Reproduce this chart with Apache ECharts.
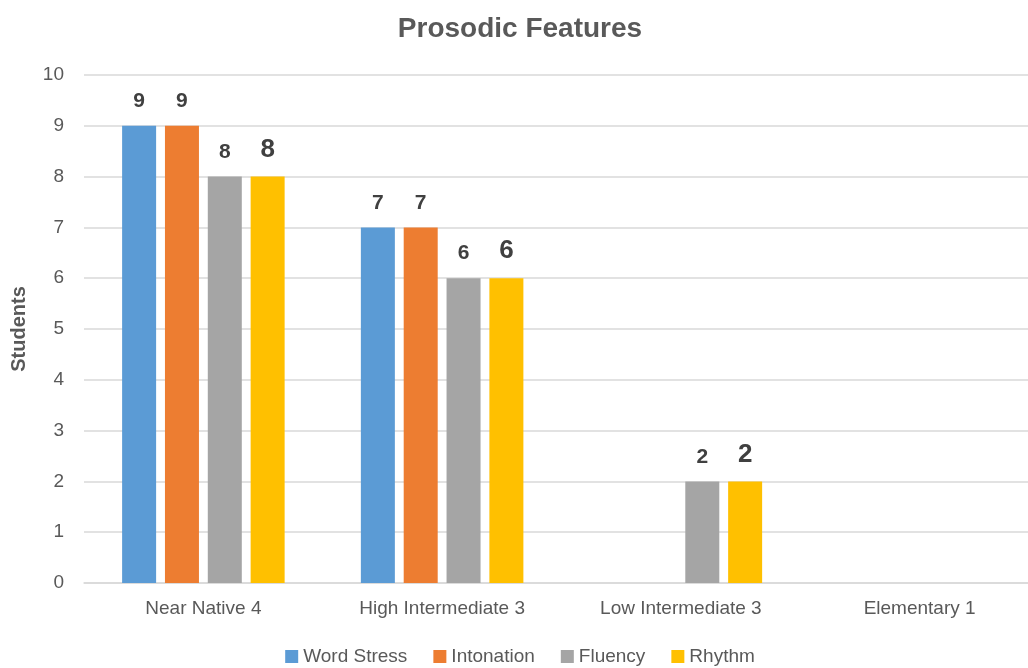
<!DOCTYPE html>
<html><head><meta charset="utf-8">
<script src="https://cdn.jsdelivr.net/npm/echarts@6/dist/echarts.min.js"></script>
<style>html,body{margin:0;padding:0;background:#fff;overflow:hidden;width:1028px;height:668px}#c{width:1040px;height:668px}</style>
</head><body><div id="c"></div>
<script>
const categories = ['Near Native 4', 'High Intermediate 3', 'Low Intermediate 3', 'Elementary 1'];
const wordStress = [9, 7, null, null];
const intonation = [9, 7, null, null];
const fluency = [8, 6, 2, null];
const rhythm = [8, 6, 2, null];
const seriesNames = ['Word Stress', 'Intonation', 'Fluency', 'Rhythm'];
const colors = ['#5B9BD5', '#ED7D31', '#A5A5A5', '#FFC000'];
const yTicks = [0, 10, 1];

const font = 'Liberation Sans, Arial, sans-serif';
const chart = echarts.init(document.getElementById('c'), null, {renderer: 'canvas'});
const mk = (name, data, color, lsize) => ({
  name, type: 'bar', data, barWidth: 34, barGap: '26%',
  itemStyle: {color},
  label: {show: true, position: 'top', distance: 14, color: '#404040', fontWeight: 'bold', fontSize: lsize, fontFamily: font}
});
chart.setOption({
  animation: false,
  title: {text: 'Prosodic Features', left: 'center', top: 10, textStyle: {color: '#595959', fontSize: 28, fontWeight: 'bold', fontFamily: font}},
  legend: {bottom: -3, left: 'center', itemWidth: 13, itemHeight: 13, itemGap: 26, icon: 'rect',
    textStyle: {color: '#595959', fontSize: 19, fontFamily: font, padding: [0, 0, 0, 0]}, data: seriesNames},
  grid: {left: 84, top: 75, right: 1, height: 508},
  xAxis: {type: 'category', data: categories,
    axisLine: {lineStyle: {color: '#d9d9d9', width: 1.5}}, axisTick: {show: false},
    axisLabel: {color: '#595959', fontSize: 19, margin: 16, fontFamily: font}},
  yAxis: {type: 'value', min: yTicks[0], max: yTicks[1], interval: yTicks[2],
    name: 'Students', nameLocation: 'middle', nameGap: 55, nameRotate: 90,
    nameTextStyle: {color: '#595959', fontSize: 20, fontWeight: 'bold', fontFamily: font},
    axisLine: {show: false}, axisTick: {show: false},
    axisLabel: {color: '#595959', fontSize: 19, margin: 20, fontFamily: font},
    splitLine: {lineStyle: {color: '#d9d9d9', width: 1.5}}},
  series: [
    mk(seriesNames[0], wordStress, colors[0], 21),
    mk(seriesNames[1], intonation, colors[1], 21),
    mk(seriesNames[2], fluency, colors[2], 21),
    mk(seriesNames[3], rhythm, colors[3], 26)
  ]
});
</script></body></html>
